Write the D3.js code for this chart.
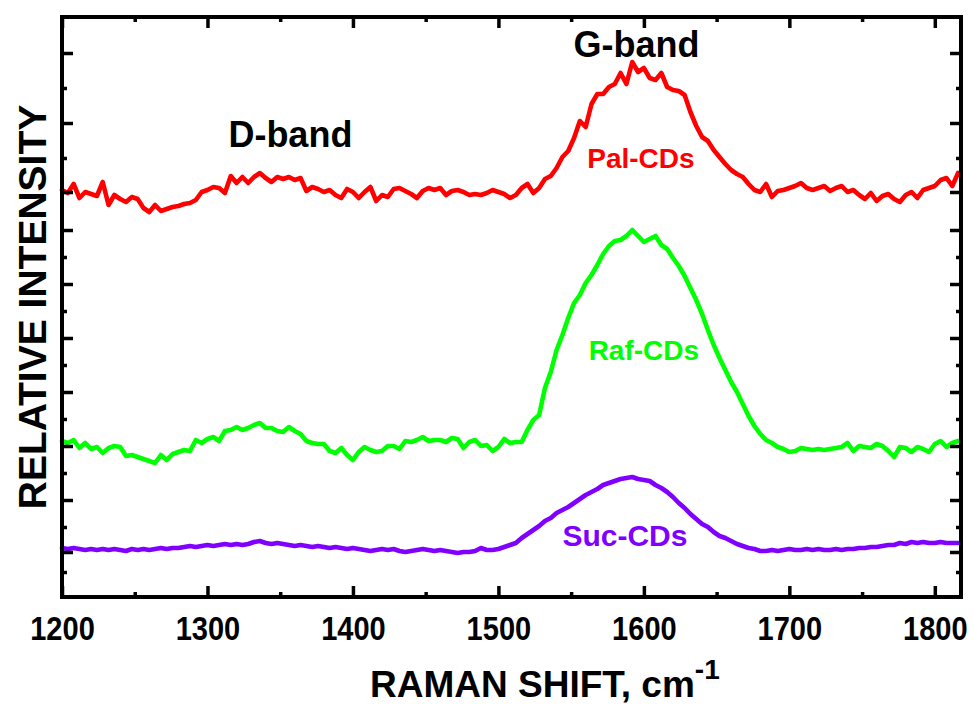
<!DOCTYPE html>
<html>
<head>
<meta charset="utf-8">
<script src="https://cdn.jsdelivr.net/npm/d3@7"></script>
<style>
  html, body { margin: 0; padding: 0; background: #fff; }
  svg { display: block; }
  text { font-family: Arial, "Liberation Sans", sans-serif; font-weight: bold; }
</style>
</head>
<body>
<svg id="chart" width="975" height="704"></svg>
<script>
// Raman shift sampling: 1200 to 1816 cm-1, every 4 cm-1
const shifts = d3.range(1200, 1817, 4);

// Relative intensity (arbitrary units, spectra stacked with offsets)
const palCDs = [
  407,404,413,399,405,403,401,415,392,402,
  398,395,400,398,389,385,392,386,388,390,
  391,393,394,397,405,407,410,409,404,421,
  414,420,414,420,424,419,415,420,418,420,
  417,419,406,410,408,405,407,402,399,408,
  405,399,405,410,396,402,400,408,409,406,
  403,399,406,409,407,409,402,406,407,405,
  402,403,402,404,407,405,403,399,402,409,
  413,404,409,418,421,429,440,446,459,476,
  470,493,503,503,510,513,524,513,535,525,
  529,519,517,524,510,507,506,502,485,471,
  460,456,447,440,433,427,423,420,413,407,
  405,413,400,406,407,409,411,414,409,407,
  409,411,406,409,411,405,407,402,398,404,
  396,401,403,398,395,402,405,399,407,409,
  411,417,419,411,424
];
const rafCDs = [
  156,154,157,149,154,148,150,144,149,151,
  150,141,142,140,138,136,134,142,137,143,
  145,147,146,157,154,158,160,156,166,167,
  170,167,169,172,174,169,169,166,165,170,
  166,163,156,154,153,153,146,144,149,142,
  137,145,150,147,145,146,151,151,148,156,
  155,157,160,156,157,157,155,159,158,149,
  155,157,151,152,146,150,158,154,155,155,
  167,177,182,209,225,247,262,279,294,302,
  314,322,332,343,351,356,357,361,367,361,
  355,358,361,352,348,339,331,321,309,297,
  283,267,252,239,227,215,205,193,181,171,
  163,157,154,150,148,145,146,149,148,147,
  148,147,148,149,150,154,146,151,150,149,
  153,151,146,140,150,149,145,150,148,145,
  153,156,150,154,156
];
const sucCDs = [
  49,48,49,48,47,48,47,48,47,48,
  47,46,48,47,48,47,48,49,48,49,
  49,50,51,50,51,52,51,52,53,52,
  53,52,53,55,56,54,53,54,53,52,
  51,52,51,50,51,50,49,50,49,48,
  49,48,47,46,47,48,47,48,46,45,
  46,47,48,47,46,47,46,45,44,45,
  45,46,49,47,47,48,50,52,54,59,
  63,67,71,76,79,84,87,90,94,98,
  102,105,108,112,114,116,118,119,120,118,
  117,116,112,109,105,100,94,89,83,78,
  73,70,65,61,59,56,53,51,49,48,
  46,46,47,46,47,48,47,47,48,47,
  48,47,47,48,47,48,48,49,49,50,
  50,51,52,52,54,53,55,54,55,54,
  54,55,54,54,54
];

const seriesNames = ["Pal-CDs", "Raf-CDs", "Suc-CDs"];
const seriesValues = [palCDs, rafCDs, sucCDs];
const seriesColors = ["#ff0000", "#00ff00", "#8000ff"];

// Axis ticks
const xMajorTicks = [1200, 1300, 1400, 1500, 1600, 1700, 1800];
const xMinorTicks = [1250, 1350, 1450, 1550, 1650, 1750];
const yMajorTicks = [544, 474, 405, 367, 313, 259, 205, 151, 97, 45];
const yMinorTicks = [509, 439, 340, 286, 232, 178, 124, 70, 25];

// Text annotations [label, shift, intensity, colour, size]
const annoText  = ["D-band", "G-band", "Pal-CDs", "Raf-CDs", "Suc-CDs"];
const annoShift = [1357, 1595, 1598, 1600, 1587];
const annoInt   = [450, 540, 429, 237, 51];
const annoColor = ["#000", "#000", "#ff0000", "#00ff00", "#8000ff"];
const annoSize  = [36, 36, 28, 28, 30];

const svg = d3.select("#chart");
const L = 62, R = 961, T = 17, B = 597;

const x = d3.scaleLinear().domain([1200, 1818]).range([L, R]);
const y = d3.scaleLinear().domain([0, 580]).range([B, T]);

// Spectra
const line = d3.line()
  .x((d, i) => x(shifts[i]))
  .y(d => y(d));

const plot = svg.append("g");
seriesValues.forEach((vals, k) => {
  plot.append("path")
    .datum(vals)
    .attr("fill", "none")
    .attr("stroke", seriesColors[k])
    .attr("stroke-width", 4.6)
    .attr("stroke-linejoin", "round")
    .attr("stroke-linecap", "round")
    .attr("d", line);
});

// Ticks on all four sides, pointing inward
function ticks(g, axisFn, scale, values, len) {
  g.call(axisFn(scale).tickValues(values).tickSize(len).tickFormat(""))
   .call(s => s.select(".domain").remove())
   .call(s => s.selectAll(".tick line").attr("stroke", "#000").attr("stroke-width", 3.5));
}
const tickLayer = svg.append("g");
[[xMajorTicks, 11], [xMinorTicks, 5]].forEach(([vals, len]) => {
  tickLayer.append("g").attr("transform", `translate(0,${B})`)
    .call(g => ticks(g, d3.axisTop, x, vals, len));
  tickLayer.append("g").attr("transform", `translate(0,${T})`)
    .call(g => ticks(g, d3.axisBottom, x, vals, len));
});
[[yMajorTicks, 11], [yMinorTicks, 5]].forEach(([vals, len]) => {
  tickLayer.append("g").attr("transform", `translate(${L},0)`)
    .call(g => ticks(g, d3.axisRight, y, vals, len));
  tickLayer.append("g").attr("transform", `translate(${R},0)`)
    .call(g => ticks(g, d3.axisLeft, y, vals, len));
});

// Frame
svg.append("rect")
  .attr("x", L).attr("y", T)
  .attr("width", R - L).attr("height", B - T)
  .attr("fill", "none").attr("stroke", "#000").attr("stroke-width", 4);

// X tick labels (slightly condensed bold digits)
svg.append("g").attr("transform", `translate(0,${B})`)
  .call(d3.axisBottom(x).tickValues(xMajorTicks).tickSize(0).tickPadding(0).tickFormat(d3.format("d")))
  .call(g => g.select(".domain").remove())
  .call(g => g.selectAll("text")
    .attr("y", 43).attr("dy", null)
    .attr("transform", "scale(0.88,1)")
    .attr("fill", "#000")
    .style("font-size", "33px")
    .style("font-family", "Arial, 'Liberation Sans', sans-serif")
    .style("font-weight", "bold"));

// Axis titles
const xTitle = svg.append("text")
  .attr("x", 370).attr("y", 697)
  .attr("font-size", 37).attr("fill", "#000");
xTitle.append("tspan").text("RAMAN SHIFT, cm");
xTitle.append("tspan").attr("dy", -18).attr("font-size", 28).text("-1");

svg.append("text")
  .attr("transform", "translate(46,307) rotate(-90)")
  .attr("text-anchor", "middle")
  .attr("font-size", 39).attr("fill", "#000")
  .text("RELATIVE INTENSITY");

// Band and sample labels
svg.append("g").selectAll("text")
  .data(annoText)
  .join("text")
  .attr("x", (d, i) => x(annoShift[i]))
  .attr("y", (d, i) => y(annoInt[i]))
  .attr("text-anchor", "middle")
  .attr("fill", (d, i) => annoColor[i])
  .attr("font-size", (d, i) => annoSize[i])
  .text(d => d);
</script>
</body>
</html>
